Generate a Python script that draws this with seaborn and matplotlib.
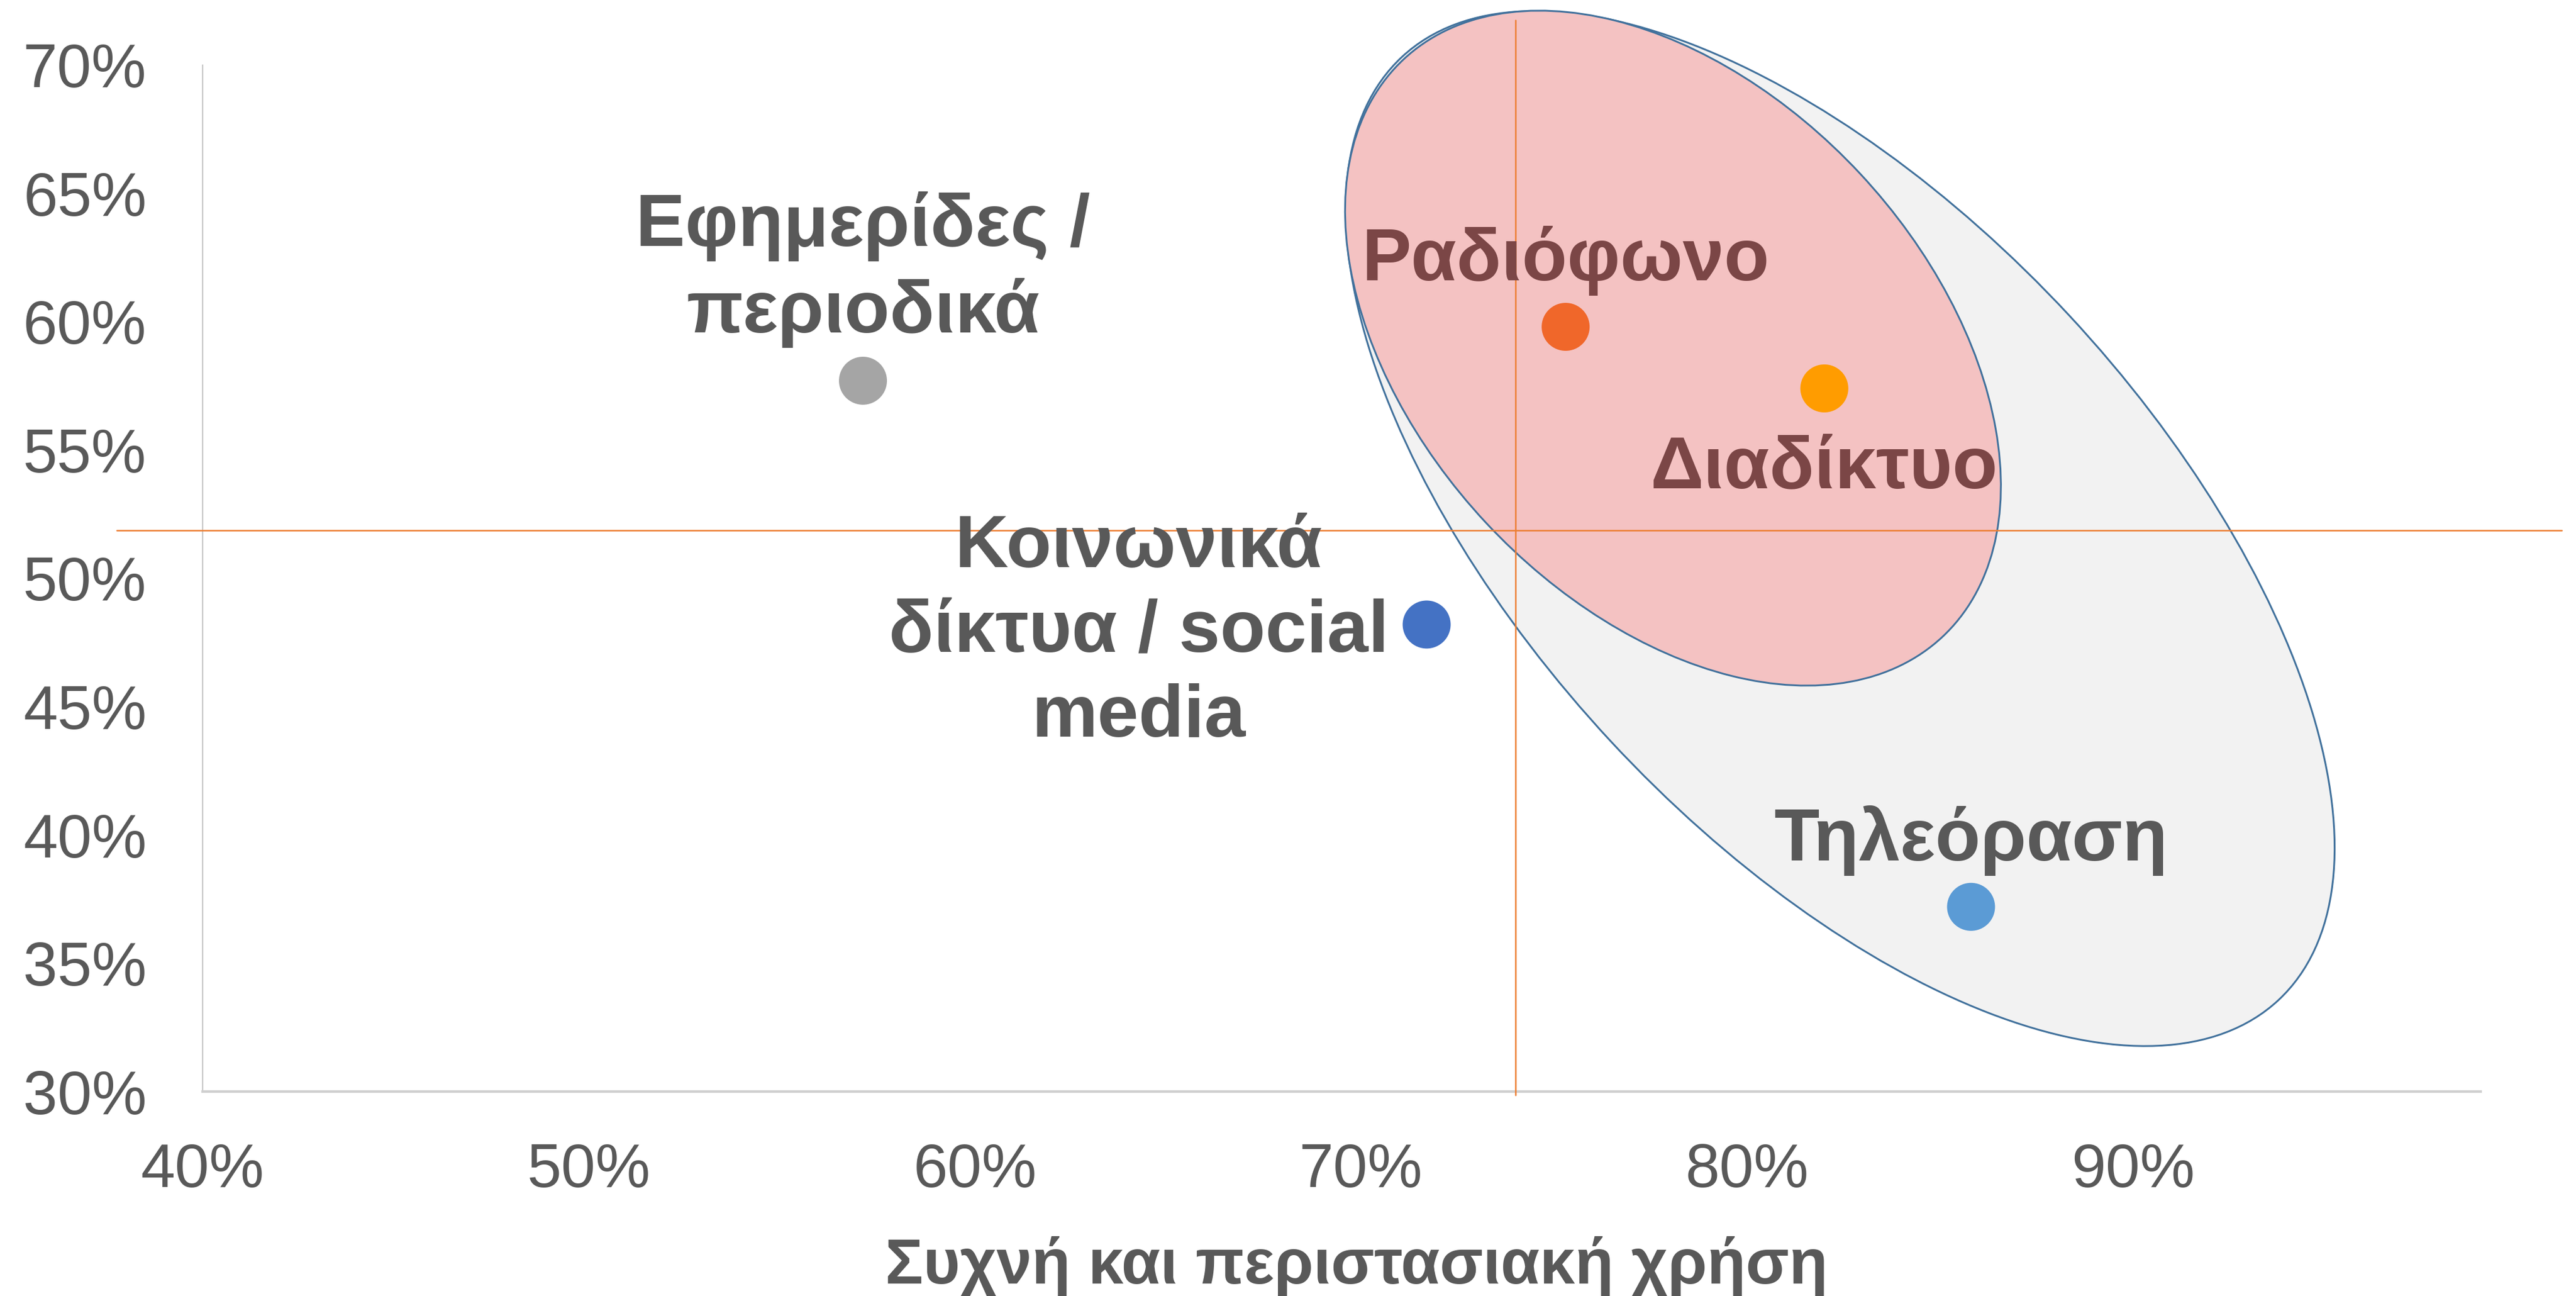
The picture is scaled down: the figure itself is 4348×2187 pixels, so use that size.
import matplotlib
matplotlib.use("Agg")
import matplotlib.pyplot as plt
from matplotlib.patches import Ellipse
from matplotlib.transforms import ScaledTranslation
from matplotlib.ticker import PercentFormatter
import pandas as pd
import seaborn as sns

# data
media = ["Εφημερίδες /\nπεριοδικά", "Κοινωνικά\nδίκτυα / social\nmedia",
         "Ραδιόφωνο", "Διαδίκτυο", "Τηλεόραση"]
usage = [0.571, 0.717, 0.753, 0.820, 0.858]      # Συχνή και περιστασιακή χρήση
trust = [0.577, 0.482, 0.598, 0.574, 0.372]
point_colors = ["#A5A5A5", "#4472C4", "#F0672A", "#FF9C00", "#5B9BD5"]
label_colors = ["#595959", "#595959", "#7B4646", "#7B4646", "#595959"]

x_ticks = [0.4, 0.5, 0.6, 0.7, 0.8, 0.9]
y_ticks = [0.30, 0.35, 0.40, 0.45, 0.50, 0.55, 0.60, 0.65, 0.70]

# average lines (drawn a bit past the plot area, like the original)
avg_x = 0.740
avg_y = 0.5187
avg_x_span = [0.2986, 0.7175]
avg_y_span = [0.3777, 1.011]

df = pd.DataFrame({"medium": media, "usage": usage, "trust": trust})

sns.set_theme(style="white")
plt.rcParams["font.family"] = ["Liberation Sans", "DejaVu Sans"]

GREY = "#595959"

fig = plt.figure(figsize=(21.74, 10.935), dpi=200)
ax = fig.add_axes([0.0787, 0.1577, 0.963 - 0.0787, 0.9498 - 0.1577])

# the two highlight ellipses (sizes in inches, centred in data coords)
def add_ellipse(cx, cy, w, h, ang, fc, z):
    tr = fig.dpi_scale_trans + ScaledTranslation(cx, cy, ax.transData)
    e = Ellipse((0, 0), w, h, angle=ang, transform=tr, facecolor=fc,
                edgecolor="#41719C", lw=1.1, zorder=z, clip_on=False)
    ax.add_patch(e)

add_ellipse(0.8241, 0.5194, 10.865, 5.28, -47.1, "#F2F2F2", 1)
add_ellipse(0.7808, 0.5897, 6.665, 4.318, -47.0, "#F4C2C2", 2)

ax.plot([avg_x, avg_x], avg_x_span, color="#ED7D31", lw=0.9, zorder=3, clip_on=False)
ax.plot(avg_y_span, [avg_y, avg_y], color="#ED7D31", lw=0.9, zorder=3, clip_on=False)

sns.scatterplot(data=df, x="usage", y="trust", hue="medium",
                palette=dict(zip(media, point_colors)), s=850, linewidth=0,
                legend=False, ax=ax, zorder=5, clip_on=False)

# labels: (offset in points, ha, va)
placement = [((0, 20), "center", "bottom"),
             ((-23, -5), "right", "center"),
             ((0, 19), "center", "bottom"),
             ((0, -28), "center", "top"),
             ((0, 19), "center", "bottom")]
for i, name in enumerate(media):
    off, ha, va = placement[i]
    ax.annotate(name, (usage[i], trust[i]), xytext=off, textcoords="offset points",
                ha=ha, va=va, multialignment="center", fontsize=45,
                fontweight="bold", color=label_colors[i], linespacing=1.3,
                zorder=6)

ax.set_xlim(0.40, 0.99)
ax.set_ylim(0.30, 0.70)
ax.set_xticks(x_ticks)
ax.set_yticks(y_ticks)
ax.xaxis.set_major_formatter(PercentFormatter(1.0, decimals=0))
ax.yaxis.set_major_formatter(PercentFormatter(1.0, decimals=0))
ax.tick_params(axis="both", length=0, labelsize=37.5, labelcolor=GREY)
ax.tick_params(axis="x", pad=31)
ax.tick_params(axis="y", pad=34)

ax.set_xlabel("Συχνή και περιστασιακή χρήση", fontsize=38.5,
              fontweight="bold", color=GREY, va="center")
ax.xaxis.set_label_coords(0.5066, -0.17)
ax.set_ylabel("")

sns.despine(ax=ax)
ax.spines["left"].set_color("#C8C8C8")
ax.spines["left"].set_linewidth(0.8)
ax.spines["bottom"].set_color("#D0D0D0")
ax.spines["bottom"].set_linewidth(1.6)
ax.grid(False)

fig.savefig("out.png", dpi=200)
